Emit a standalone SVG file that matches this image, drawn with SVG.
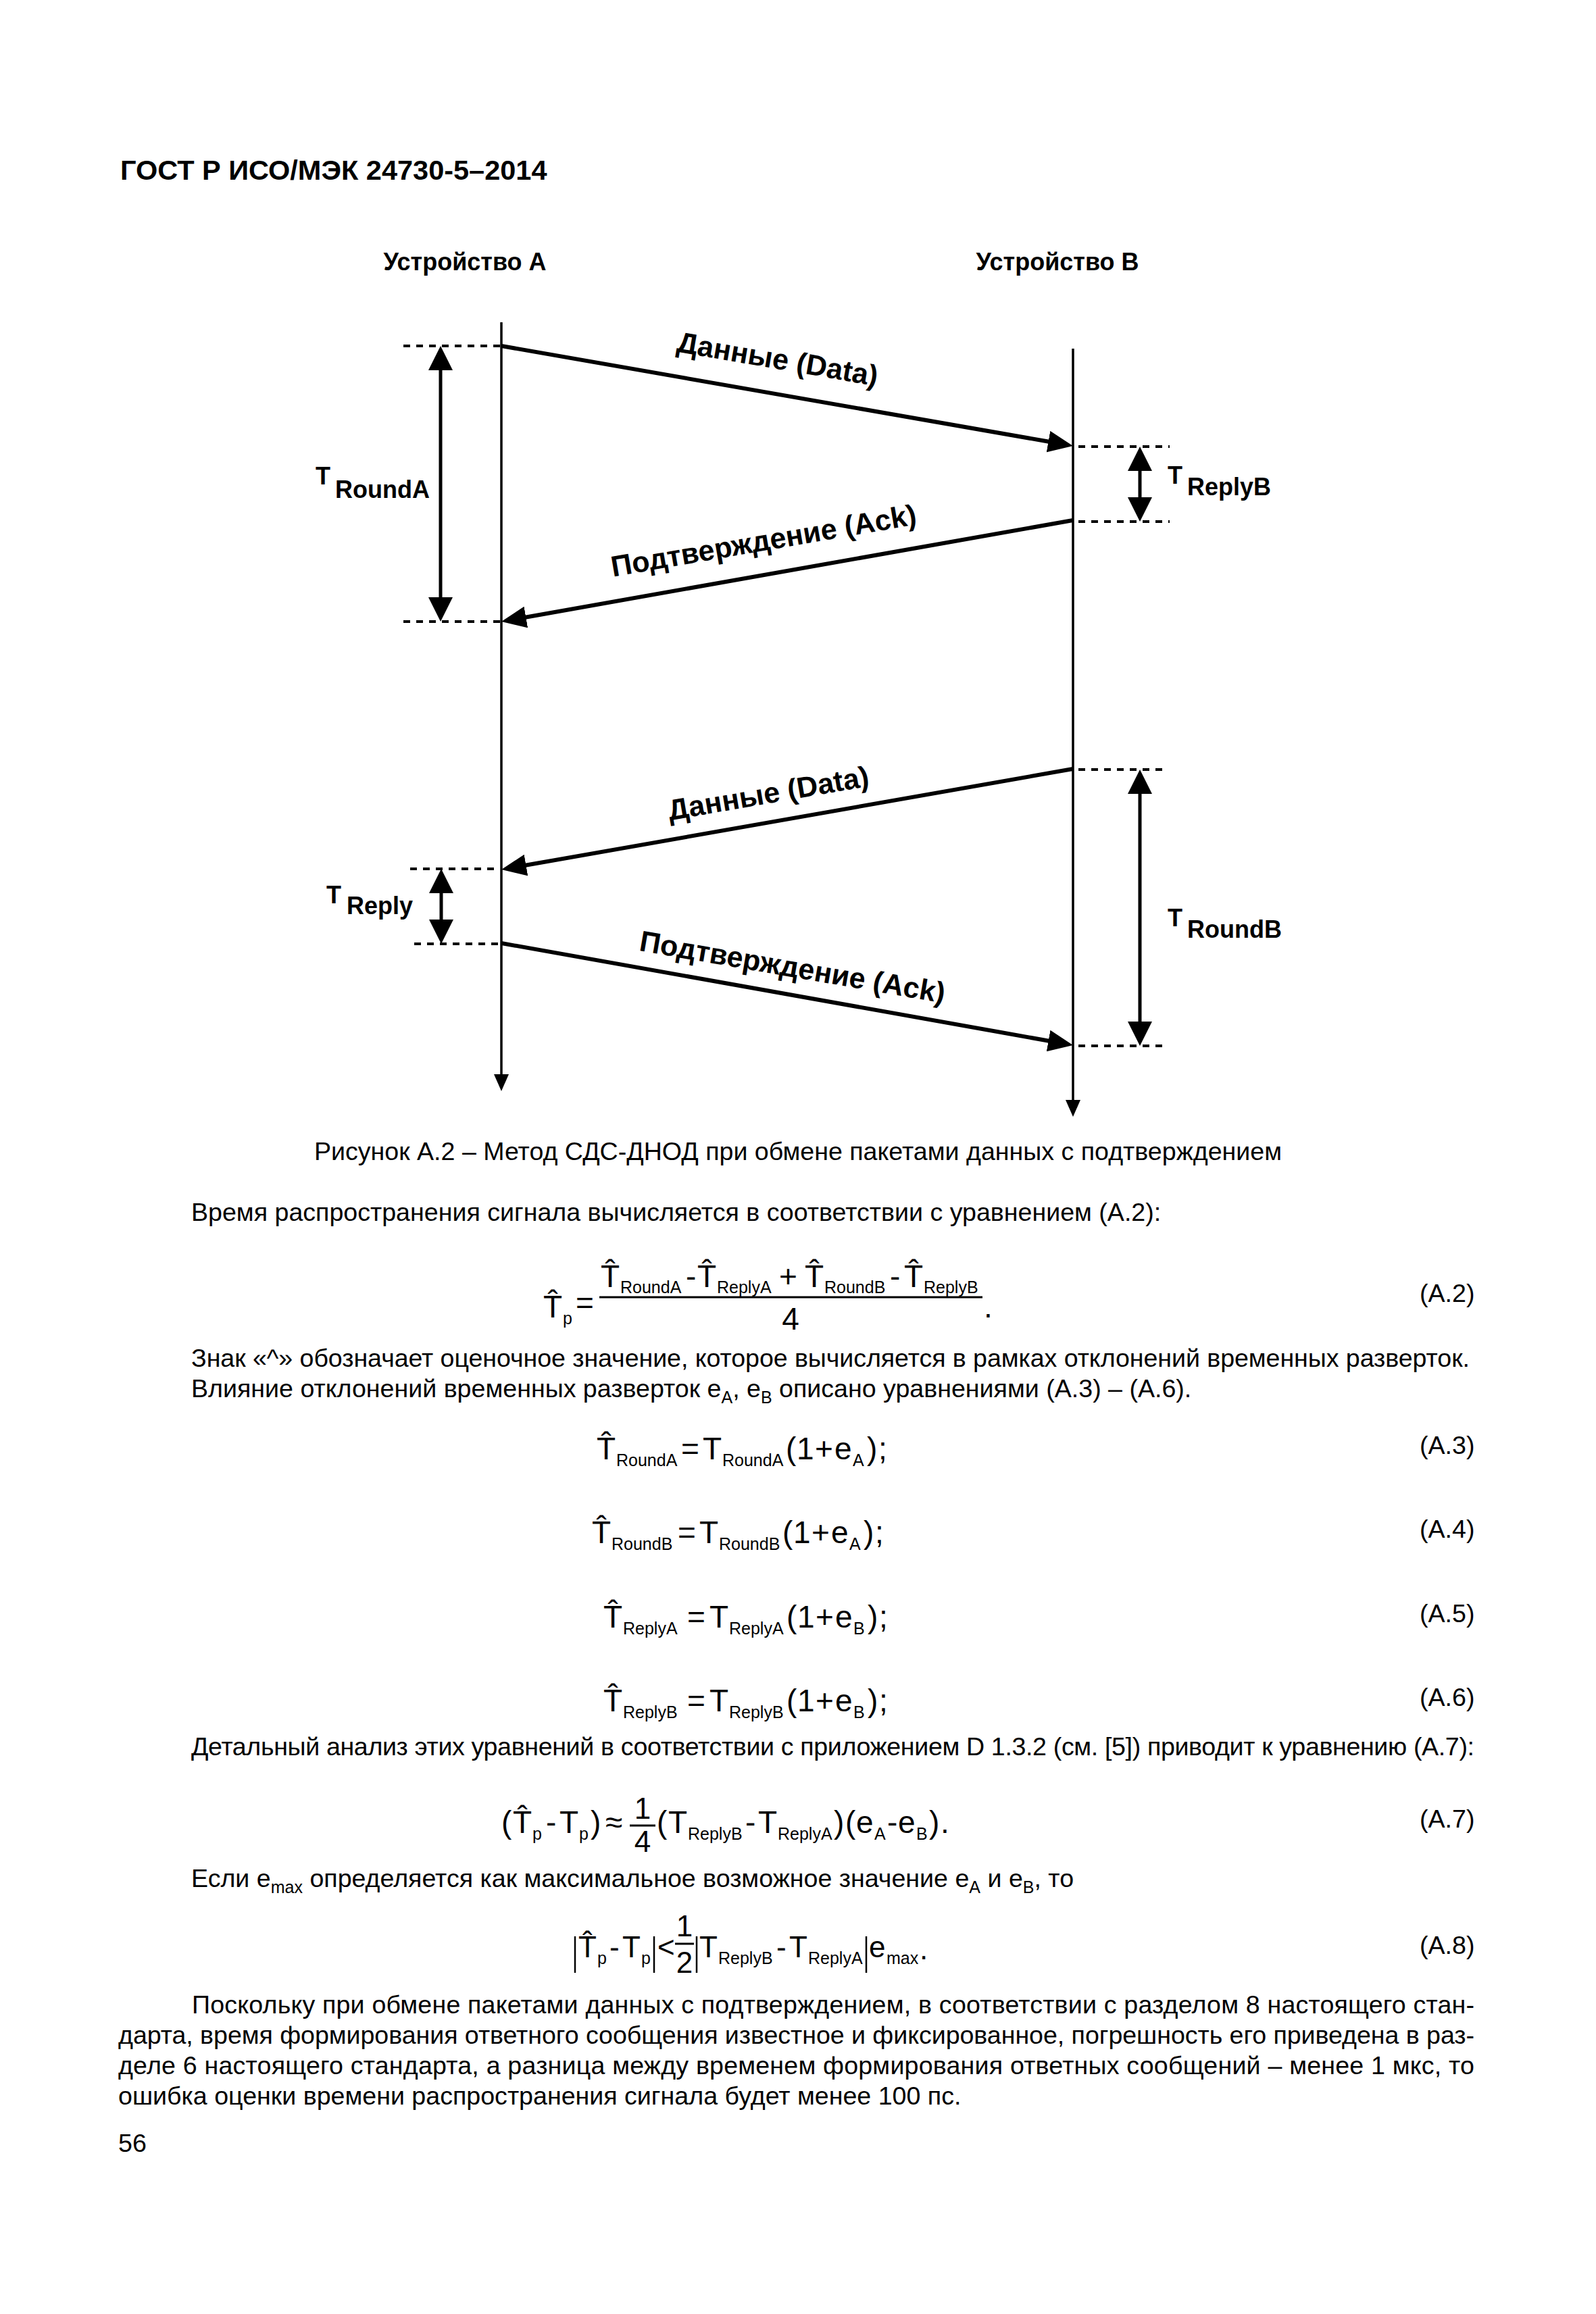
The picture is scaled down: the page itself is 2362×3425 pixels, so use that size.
<svg xmlns="http://www.w3.org/2000/svg" width="2362" height="3425" viewBox="0 0 2362 3425">
<style>
text{font-family:"Liberation Sans",Arial,sans-serif;fill:#000}
.b{font-size:37.6px}
.ttl{font-size:41.5px;font-weight:bold}
.hd{font-size:36px;font-weight:bold}
.lbl{font-size:43px;font-weight:bold}
.dim{font-size:36px;font-weight:bold}
.eq{font-size:46px}
.eq8{font-size:44px}
.fr{font-size:44px}
.sub{font-size:25px}
.mid{text-anchor:middle}
.life{stroke:#000;stroke-width:3.5;fill:none}
.msg{stroke:#000;stroke-width:6;fill:none}
.dimln{stroke:#000;stroke-width:5;fill:none}
.dot{stroke:#000;stroke-width:4;stroke-dasharray:10 9;fill:none}
.bar{stroke:#000;stroke-width:3;fill:none}
.vb{stroke:#000;stroke-width:2.5;fill:none}
</style>
<defs>
<marker id="tip" viewBox="0 0 25 22" refX="0" refY="11" markerWidth="25" markerHeight="22" markerUnits="userSpaceOnUse" orient="auto"><path d="M0,0 L25,11 L0,22 Z" fill="#000"/></marker>
<marker id="ah" viewBox="0 0 37 32" refX="1" refY="16" markerWidth="37" markerHeight="32" markerUnits="userSpaceOnUse" orient="auto"><path d="M0,0 L37,16 L0,32 Z" fill="#000"/></marker>
<marker id="dh" viewBox="0 0 36 36" refX="1" refY="18" markerWidth="36" markerHeight="36" markerUnits="userSpaceOnUse" orient="auto-start-reverse"><path d="M0,0 L36,18 L0,36 Z" fill="#000"/></marker>
</defs>
<rect width="2362" height="3425" fill="#fff"/>

<text class="ttl" x="178" y="266">ГОСТ Р ИСО/МЭК 24730-5–2014</text>

<g id="device-a">
<text class="hd mid" x="688" y="400">Устройство А</text>
<line class="life" x1="742" y1="477" x2="742" y2="1590" marker-end="url(#tip)"/>
</g>
<g id="device-b">
<text class="hd mid" x="1565" y="400">Устройство В</text>
<line class="life" x1="1588" y1="516" x2="1588" y2="1628" marker-end="url(#tip)"/>
</g>

<g id="connectors">
<line class="msg" x1="742" y1="512" x2="1552.5" y2="653.8" marker-end="url(#ah)"/>
<line class="msg" x1="1588" y1="770" x2="777.4" y2="913.7" marker-end="url(#ah)"/>
<line class="msg" x1="1588" y1="1138" x2="777.5" y2="1280.8" marker-end="url(#ah)"/>
<line class="msg" x1="742" y1="1396" x2="1552.6" y2="1540.7" marker-end="url(#ah)"/>
<text class="lbl mid" x="1151" y="546" transform="rotate(9.8 1151 531)">Данные (Data)</text>
<text class="lbl mid" x="1130" y="815" transform="rotate(-9.8 1130 800)">Подтверждение (Ack)</text>
<text class="lbl mid" x="1137" y="1189" transform="rotate(-9.8 1137 1174)">Данные (Data)</text>
<text class="lbl mid" x="1173" y="1446" transform="rotate(9.8 1173 1431)">Подтверждение (Ack)</text>
</g>

<g id="intervals">
<line class="dot" x1="597" y1="512" x2="740" y2="512"/>
<line class="dot" x1="597" y1="920" x2="740" y2="920"/>
<line class="dot" x1="1596" y1="661" x2="1731" y2="661"/>
<line class="dot" x1="1596" y1="772" x2="1731" y2="772"/>
<line class="dot" x1="1596" y1="1139" x2="1727" y2="1139"/>
<line class="dot" x1="1596" y1="1548" x2="1727" y2="1548"/>
<line class="dot" x1="607" y1="1286" x2="740" y2="1286"/>
<line class="dot" x1="613" y1="1397" x2="740" y2="1397"/>
<line class="dimln" x1="652" y1="547" x2="652" y2="885" marker-start="url(#dh)" marker-end="url(#dh)"/>
<line class="dimln" x1="1687" y1="696" x2="1687" y2="737" marker-start="url(#dh)" marker-end="url(#dh)"/>
<line class="dimln" x1="653" y1="1321" x2="653" y2="1362" marker-start="url(#dh)" marker-end="url(#dh)"/>
<line class="dimln" x1="1687" y1="1174" x2="1687" y2="1513" marker-start="url(#dh)" marker-end="url(#dh)"/>
<text class="dim" x="467" y="717">T</text><text class="dim" x="496" y="737">RoundA</text>
<text class="dim" x="1728" y="716">T</text><text class="dim" x="1757" y="733">ReplyB</text>
<text class="dim" x="483" y="1337">T</text><text class="dim" x="513" y="1353">Reply</text>
<text class="dim" x="1728" y="1371">T</text><text class="dim" x="1757" y="1388">RoundB</text>
</g>

<text class="b mid" x="1181" y="1717">Рисунок А.2 – Метод СДС-ДНОД при обмене пакетами данных с подтверждением</text>

<text class="b" x="283" y="1807">Время распространения сигнала вычисляется в соответствии с уравнением (А.2):</text>

<g id="eq-a2">
<text class="eq" x="804" y="1950">T&#x302;</text><text class="sub" x="833" y="1960">p</text>
<text class="eq" x="852" y="1944">=</text>
<line class="bar" x1="887" y1="1920" x2="1454" y2="1920"/>
<text class="eq" x="889" y="1905">T&#x302;</text><text class="sub" x="918" y="1914">RoundA</text>
<text class="eq" x="1015" y="1905">-</text>
<text class="eq" x="1032" y="1905">T&#x302;</text><text class="sub" x="1061" y="1914">ReplyA</text>
<text class="eq" x="1153" y="1905">+</text>
<text class="eq" x="1191" y="1905">T&#x302;</text><text class="sub" x="1220" y="1914">RoundB</text>
<text class="eq" x="1317" y="1905">-</text>
<text class="eq" x="1338" y="1905">T&#x302;</text><text class="sub" x="1367" y="1914">ReplyB</text>
<text class="eq mid" x="1170" y="1968">4</text>
<text class="eq" x="1456" y="1950">.</text>
<text class="b" x="2101" y="1927">(А.2)</text>
</g>

<text class="b" x="283" y="2023" textLength="1892" lengthAdjust="spacing">Знак «^» обозначает оценочное значение, которое вычисляется в рамках отклонений временных разверток.</text>
<text class="b" x="283" y="2068">Влияние отклонений временных разверток e<tspan class="sub" dy="9">A</tspan><tspan dy="-9">, e</tspan><tspan class="sub" dy="9">B</tspan><tspan dy="-9"> описано уравнениями (А.3) – (А.6).</tspan></text>

<g id="eq-a3">
<text class="eq" x="883" y="2160">T&#x302;</text><text class="sub" x="912" y="2170">RoundA</text>
<text class="eq" x="1008" y="2160">=</text>
<text class="eq" x="1040" y="2160">T</text><text class="sub" x="1069" y="2170">RoundA</text>
<text class="eq" x="1163" y="2160">(</text><text class="eq" x="1179" y="2160">1</text><text class="eq" x="1206" y="2160">+</text><text class="eq" x="1235" y="2160">e</text><text class="sub" x="1262" y="2170">A</text><text class="eq" x="1283" y="2160">)</text><text class="eq" x="1300" y="2160">;</text>
<text class="b" x="2101" y="2152">(А.3)</text>
</g>
<g id="eq-a4">
<text class="eq" x="876" y="2284">T&#x302;</text><text class="sub" x="905" y="2294">RoundB</text>
<text class="eq" x="1003" y="2284">=</text>
<text class="eq" x="1035" y="2284">T</text><text class="sub" x="1064" y="2294">RoundB</text>
<text class="eq" x="1158" y="2284">(</text><text class="eq" x="1174" y="2284">1</text><text class="eq" x="1201" y="2284">+</text><text class="eq" x="1230" y="2284">e</text><text class="sub" x="1257" y="2294">A</text><text class="eq" x="1278" y="2284">)</text><text class="eq" x="1295" y="2284">;</text>
<text class="b" x="2101" y="2276">(А.4)</text>
</g>
<g id="eq-a5">
<text class="eq" x="893" y="2409">T&#x302;</text><text class="sub" x="922" y="2419">ReplyA</text>
<text class="eq" x="1017" y="2409">=</text>
<text class="eq" x="1050" y="2409">T</text><text class="sub" x="1079" y="2419">ReplyA</text>
<text class="eq" x="1164" y="2409">(</text><text class="eq" x="1180" y="2409">1</text><text class="eq" x="1207" y="2409">+</text><text class="eq" x="1236" y="2409">e</text><text class="sub" x="1263" y="2419">B</text><text class="eq" x="1284" y="2409">)</text><text class="eq" x="1301" y="2409">;</text>
<text class="b" x="2101" y="2401">(А.5)</text>
</g>
<g id="eq-a6">
<text class="eq" x="893" y="2533">T&#x302;</text><text class="sub" x="922" y="2543">ReplyB</text>
<text class="eq" x="1017" y="2533">=</text>
<text class="eq" x="1050" y="2533">T</text><text class="sub" x="1079" y="2543">ReplyB</text>
<text class="eq" x="1164" y="2533">(</text><text class="eq" x="1180" y="2533">1</text><text class="eq" x="1207" y="2533">+</text><text class="eq" x="1236" y="2533">e</text><text class="sub" x="1263" y="2543">B</text><text class="eq" x="1284" y="2533">)</text><text class="eq" x="1301" y="2533">;</text>
<text class="b" x="2101" y="2525">(А.6)</text>
</g>

<text class="b" x="283" y="2598" textLength="1899" lengthAdjust="spacing">Детальный анализ этих уравнений в соответствии с приложением D 1.3.2 (см. [5]) приводит к уравнению (А.7):</text>

<g id="eq-a7">
<text class="eq" x="742" y="2713">(</text>
<text class="eq" x="759" y="2713">T&#x302;</text><text class="sub" x="788" y="2723">p</text>
<text class="eq" x="808" y="2713">-</text>
<text class="eq" x="828" y="2713">T</text><text class="sub" x="857" y="2723">p</text>
<text class="eq" x="874" y="2713">)</text>
<text class="eq" x="896" y="2713">≈</text>
<text class="fr mid" x="951" y="2692">1</text>
<line class="bar" x1="932" y1="2702" x2="970" y2="2702"/>
<text class="fr mid" x="951" y="2741">4</text>
<text class="eq" x="972" y="2713">(</text>
<text class="eq" x="989" y="2713">T</text><text class="sub" x="1018" y="2723">ReplyB</text>
<text class="eq" x="1103" y="2713">-</text>
<text class="eq" x="1122" y="2713">T</text><text class="sub" x="1151" y="2723">ReplyA</text>
<text class="eq" x="1234" y="2713">)</text>
<text class="eq" x="1251" y="2713">(</text>
<text class="eq" x="1267" y="2713">e</text><text class="sub" x="1294" y="2723">A</text>
<text class="eq" x="1313" y="2713">-</text>
<text class="eq" x="1329" y="2713">e</text><text class="sub" x="1356" y="2723">B</text>
<text class="eq" x="1375" y="2713">)</text>
<text class="eq" x="1392" y="2713">.</text>
<text class="b" x="2101" y="2705">(А.7)</text>
</g>

<text class="b" x="283" y="2793">Если e<tspan class="sub" dy="9">max</tspan><tspan dy="-9"> определяется как максимальное возможное значение e</tspan><tspan class="sub" dy="9">A</tspan><tspan dy="-9"> и e</tspan><tspan class="sub" dy="9">B</tspan><tspan dy="-9">, то</tspan></text>

<g id="eq-a8">
<line class="vb" x1="851" y1="2866" x2="851" y2="2920"/>
<text class="eq8" x="856" y="2897">T&#x302;</text><text class="sub" x="884" y="2907">p</text>
<text class="eq8" x="902" y="2897">-</text>
<text class="eq8" x="921" y="2897">T</text><text class="sub" x="949" y="2907">p</text>
<line class="vb" x1="968" y1="2866" x2="968" y2="2920"/>
<text class="eq8" x="973" y="2897">&lt;</text>
<text class="fr mid" x="1013" y="2866">1</text>
<line class="bar" x1="999" y1="2877" x2="1027" y2="2877"/>
<text class="fr mid" x="1013" y="2920">2</text>
<line class="vb" x1="1031" y1="2866" x2="1031" y2="2920"/>
<text class="eq8" x="1035" y="2897">T</text><text class="sub" x="1063" y="2907">ReplyB</text>
<text class="eq8" x="1149" y="2897">-</text>
<text class="eq8" x="1168" y="2897">T</text><text class="sub" x="1196" y="2907">ReplyA</text>
<line class="vb" x1="1282" y1="2866" x2="1282" y2="2920"/>
<text class="eq8" x="1286" y="2897">e</text><text class="sub" x="1312" y="2907">max</text>
<text class="eq8" x="1361" y="2900">.</text>
<text class="b" x="2101" y="2892">(А.8)</text>
</g>

<g id="paragraph">
<text class="b" x="284" y="2980" textLength="1898" lengthAdjust="spacing">Поскольку при обмене пакетами данных с подтверждением, в соответствии с разделом 8 настоящего стан-</text>
<text class="b" x="175" y="3025" textLength="2007" lengthAdjust="spacing">дарта, время формирования ответного сообщения известное и фиксированное, погрешность его приведена в раз-</text>
<text class="b" x="175" y="3070" textLength="2007" lengthAdjust="spacing">деле 6 настоящего стандарта, а разница между временем формирования ответных сообщений – менее 1 мкс, то</text>
<text class="b" x="175" y="3115">ошибка оценки времени распространения сигнала будет менее 100 пс.</text>
</g>
<text class="b" x="175" y="3185">56</text>
</svg>
